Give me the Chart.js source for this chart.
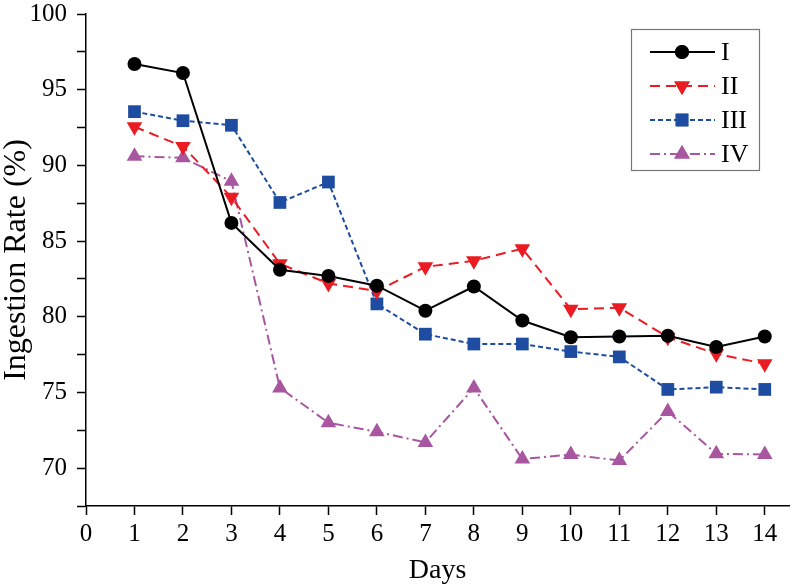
<!DOCTYPE html>
<html>
<head>
<meta charset="utf-8">
<script src="https://cdn.jsdelivr.net/npm/chart.js@4/dist/chart.umd.min.js"></script>
<style>
  html, body { margin: 0; padding: 0; background: #fff; }
  #wrap { width: 792px; height: 588px; }
</style>
</head>
<body>
<div id="wrap"><canvas id="myChart" width="792" height="588"></canvas></div>
<script>
// data
let days=[1,2,3,4,5,6,7,8,9,10,11,12,13,14];
let seriesNames=["I","II","III","IV"];
let valuesI=[96.7,96.1,86.2,83.1,82.7,82.05,80.4,82.0,79.75,78.65,78.7,78.75,78.0,78.7];
let valuesII=[92.55,91.25,87.9,83.5,82.2,81.7,83.3,83.7,84.5,80.5,80.6,78.65,77.55,76.9];
let valuesIII=[93.55,92.95,92.65,87.55,88.9,80.85,78.85,78.2,78.2,77.7,77.35,75.2,75.35,75.2];
let valuesIV=[90.6,90.5,88.95,75.3,73.0,72.4,71.7,75.3,70.6,70.9,70.5,73.75,70.95,70.9];
let yTickLabels=[70,75,80,85,90,95,100];
let xTickLabels=[0,1,2,3,4,5,6,7,8,9,10,11,12,13,14];

const serif="'Liberation Serif','Times New Roman',serif";

let toPoints=(vals)=>vals.map((v,i)=>({x: days[i], y: v}));

const red='rgb(234,27,34)';
const blue='rgb(30,76,160)';
const purple='rgb(168,86,160)';

let datasets=[
    {label: seriesNames[0], data: toPoints(valuesI), borderColor:'#000', backgroundColor:'#000',
     borderWidth:2, pointStyle:'circle', pointRadius:7, borderDash:[]},
    {label: seriesNames[1], data: toPoints(valuesII), borderColor:red, backgroundColor:red,
     borderWidth:2, pointStyle:'triangle', pointRotation:180, pointRadius:9, borderDash:[10,6]},
    {label: seriesNames[2], data: toPoints(valuesIII), borderColor:blue, backgroundColor:blue,
     borderWidth:2, pointStyle:'rect', pointRadius:9, borderDash:[5,3]},
    {label: seriesNames[3], data: toPoints(valuesIV), borderColor:purple, backgroundColor:purple,
     borderWidth:2, pointStyle:'triangle', pointRadius:9, borderDash:[10,4,2,4]}
];
datasets.forEach(d=>{ d.pointBorderWidth=0; d.tension=0; d.fill=false; });

// boxed legend with line samples drawn inside the chart
const boxLegend={
    id:'boxLegend',
    afterDraw(chart){
        const ctx=chart.ctx;
        ctx.save();
        ctx.strokeStyle='#777';
        ctx.lineWidth=1.2;
        ctx.strokeRect(631.5,29.5,128,141);
        const rows=[52,86,120,154];
        chart.data.datasets.forEach((ds,i)=>{
            const y=rows[i];
            ctx.setLineDash(ds.borderDash);
            ctx.strokeStyle=ds.borderColor;
            ctx.lineWidth=2;
            ctx.beginPath();
            ctx.moveTo(650,y);
            ctx.lineTo(715,y);
            ctx.stroke();
            ctx.setLineDash([]);
            ctx.fillStyle=ds.backgroundColor;
            Chart.helpers.drawPoint(ctx,{pointStyle:ds.pointStyle,rotation:ds.pointRotation||0,radius:ds.pointRadius,borderWidth:0},682,y);
            ctx.fill();
            ctx.fillStyle='#000';
            ctx.font='26px '+serif;
            ctx.textBaseline='middle';
            ctx.textAlign='left';
            ctx.fillText(ds.label,721,y+1);
        });
        ctx.restore();
    }
};

const ctx=document.getElementById('myChart').getContext('2d');
new Chart(ctx,{
    type:'line',
    data:{datasets: datasets},
    options:{
        responsive:false,
        animation:false,
        layout:{autoPadding:false, padding:{top:14,right:3,left:0,bottom:0}},
        plugins:{legend:{display:false},tooltip:{enabled:false}},
        scales:{
            x:{
                type:'linear', min:0, max:14.5,
                afterBuildTicks:(s)=>{ s.ticks=xTickLabels.map(v=>({value:v})); },
                afterFit:(s)=>{ s.height=82; s.paddingLeft=0; s.paddingRight=0; },
                grid:{drawOnChartArea:false, tickLength:9, color:'#000', tickWidth:1.5},
                border:{color:'#000', width:1.5},
                ticks:{color:'#000', font:{family:serif, size:25}, padding:4, maxRotation:0},
                title:{display:true, text:'Days', color:'#000', font:{family:serif, size:28, lineHeight:1.1}, padding:{top:0,bottom:2}}
            },
            y:{
                min:67.5, max:100,
                afterBuildTicks:(s)=>{
                    let t=[];
                    for(let v=67.5; v<=100; v+=2.5) t.push({value:v});
                    s.ticks=t;
                },
                afterFit:(s)=>{ s.width=86; s.paddingTop=0; s.paddingBottom=0; },
                grid:{drawOnChartArea:false, tickLength:9, color:'#000', tickWidth:1.5},
                border:{color:'#000', width:1.5},
                ticks:{color:'#000', font:{family:serif, size:25}, padding:10,
                    callback:(v)=> yTickLabels.includes(v) ? String(v) : ''},
                title:{display:true, text:'Ingestion Rate (%)', color:'#000', font:{family:serif, size:32, lineHeight:1.05}, padding:{top:0,bottom:0}}
            }
        }
    },
    plugins:[boxLegend]
});
</script>
</body>
</html>
